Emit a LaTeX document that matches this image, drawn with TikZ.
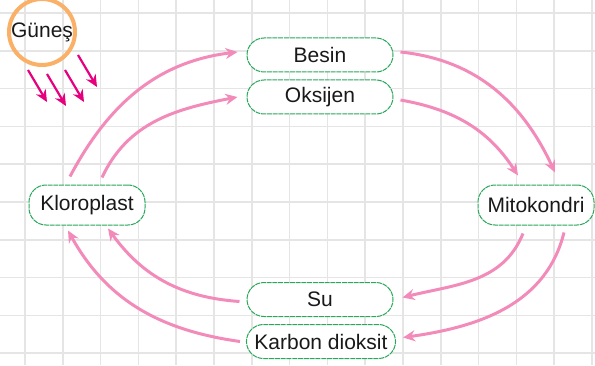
\documentclass[tikz,border=0pt]{standalone}
\usepackage{fontspec}
\setmainfont{Liberation Sans}
\usetikzlibrary{arrows.meta}
\definecolor{gridgray}{RGB}{229,229,229}
\definecolor{boxgreen}{RGB}{40,168,90}
\definecolor{cyclepink}{RGB}{242,139,186}
\definecolor{raymagenta}{RGB}{230,0,126}
\definecolor{sunorange}{RGB}{250,176,102}
\begin{document}
\begin{tikzpicture}[x=0.5pt,y=0.5pt,
    font=\fontsize{10.5}{12}\selectfont,
    gridline/.style={gridgray,line width=0.75pt},
    cell/.style={draw=boxgreen,fill=white,line width=0.5pt,dash pattern=on 2.5pt off 0.4pt,
      rounded corners=8.5pt,minimum height=17pt,inner xsep=4pt,text=black!90},
    midcell/.style={cell,minimum width=73pt},
    sidecell/.style={cell,minimum width=58pt,minimum height=20pt},
    flow/.style={cyclepink,line width=1.5pt,-{Stealth[length=6pt,width=5.5pt]}},
    ray/.style={raymagenta,line width=1.1pt,-{Stealth[length=6pt,width=5.5pt]}}]
  \useasboundingbox (0,0) rectangle (595,365);
  % squared paper
  \foreach \k in {0,...,15}
    \draw[gridline] ({25+37.8*\k},0) -- ({25+37.8*\k},365);
  \foreach \k in {0,...,9}
    \draw[gridline] (0,{352-37.8*\k}) -- (595,{352-37.8*\k});
  % sun and its rays
  \node[circle,draw=sunorange,line width=2pt,minimum size=33pt,inner sep=0pt,text=black!90] (sun) at (42,333) {Güneş};
  \foreach \rx/\ry in {28/295,47/291,65/295,78/310}
    \draw[ray] (\rx,\ry) -- ++(19,-32);
  % what goes round
  \node[midcell] (besin) at (320,310) {Besin};
  \node[midcell] (oksijen) at (320,268) {Oksijen};
  \node[midcell] (su) at (320,65.5) {Su};
  \node[midcell] (co2) at (321,23.5) {Karbon dioksit};
  \node[sidecell] (klor) at (87,160) {Kloroplast};
  \node[sidecell] (mito) at (536,160) {Mitokondri};
  % cycle
  \draw[flow] ([xshift=-8.5pt,yshift=4pt]klor.north) to[out=62,in=187] ([xshift=-4.5pt,yshift=1.5pt]besin.west);
  \draw[flow] ([xshift=7.5pt,yshift=3.5pt]klor.north) to[out=65,in=191] ([xshift=-4.5pt]oksijen.west);
  \draw[flow] ([xshift=3.5pt,yshift=1.5pt]besin.east) to[out=-6,in=115] ([xshift=9.5pt,yshift=6pt]mito.north);
  \draw[flow] ([xshift=3.5pt,yshift=-1.5pt]oksijen.east) to[out=-10,in=123] ([xshift=-9pt,yshift=4.5pt]mito.north);
  \draw[flow] ([xshift=-6.5pt,yshift=-4pt]mito.south) to[out=248,in=14] ([xshift=4.5pt,yshift=1pt]su.east);
  \draw[flow] ([xshift=14pt,yshift=-3.5pt]mito.south) to[out=256,in=8] ([xshift=3.5pt,yshift=2pt]co2.east);
  \draw[flow] ([xshift=-3.5pt,yshift=-1pt]su.west) to[out=176,in=306] ([xshift=10.5pt,yshift=-1.5pt]klor.south);
  \draw[flow] ([xshift=-3pt]co2.west) to[out=172,in=299] ([xshift=-9.5pt,yshift=-2.5pt]klor.south);
\end{tikzpicture}
\end{document}
